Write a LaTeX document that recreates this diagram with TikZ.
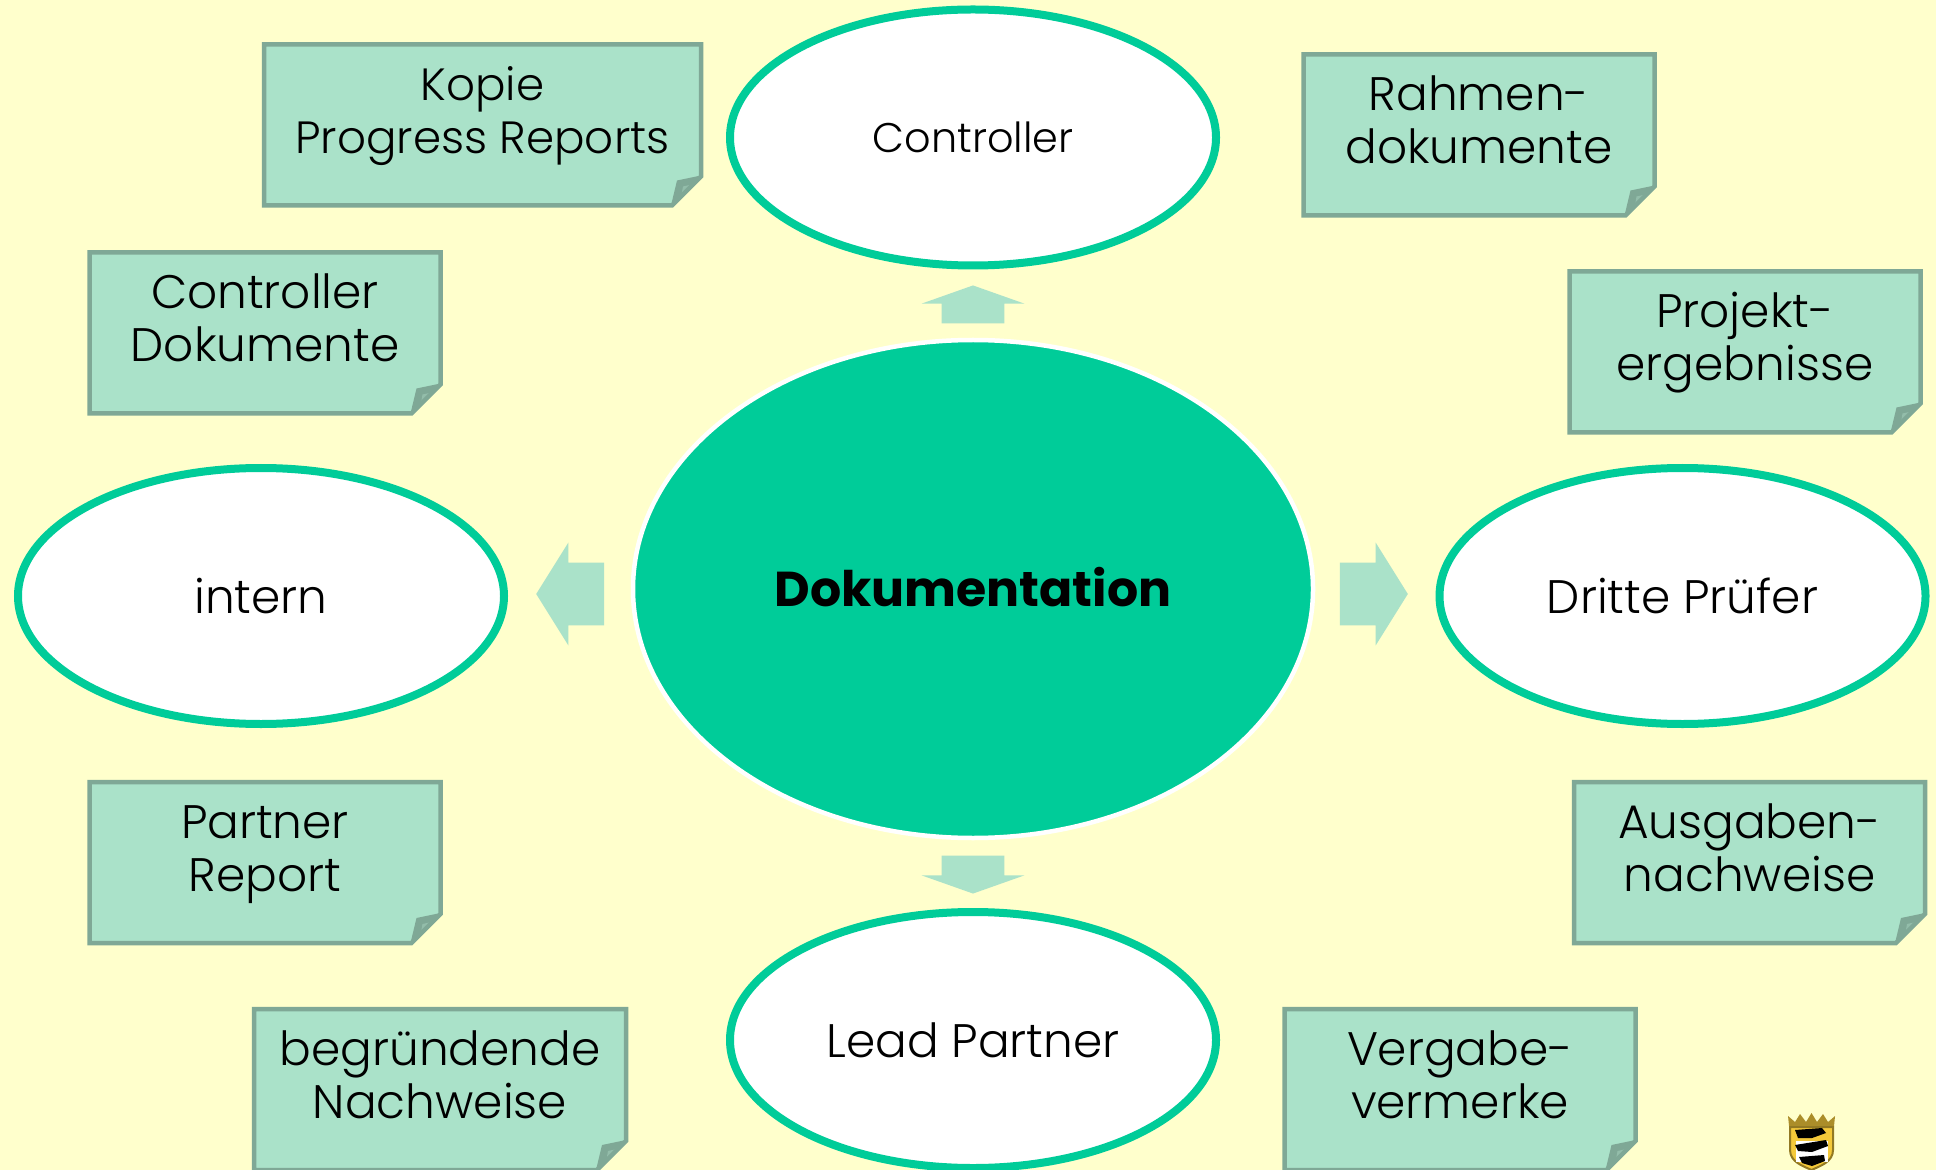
\documentclass[tikz,border=0pt]{standalone}
\usepackage{xcolor}
\usepackage{fontspec}
\setmainfont{Poppins}[UprightFont=*-Light,BoldFont=*-Bold]
\usetikzlibrary{shapes.geometric,shapes.misc,shapes.arrows}
\definecolor{paper}{HTML}{FFFFCC}
\definecolor{mint}{HTML}{00CC99}
\definecolor{notefill}{HTML}{AAE2C9}
\definecolor{noteline}{HTML}{7FA896}
\definecolor{foldlight}{HTML}{93BDAA}
\definecolor{crest}{HTML}{F4C93A}
\tikzset{
  note box/.style = {chamfered rectangle,chamfered rectangle corners=south east,
    chamfered rectangle xsep=7.5pt,chamfered rectangle ysep=7pt,
    draw=noteline,fill=notefill,line width=2.25pt,
    minimum width=175.5pt,minimum height=80.5pt,inner sep=0pt,align=center,
    font=\fontsize{23.5}{26.5}\selectfont,text height=35pt,text depth=6pt,
    path picture={
      \coordinate (fold) at (path picture bounding box.south east);
      \fill[noteline] ([shift={(-30,0)}]fold) -- ([shift={(-24,-25)}]fold) -- ([shift={(0,-30)}]fold) -- cycle;
      \fill[foldlight] ([shift={(-20,-8)}]fold) -- ([shift={(-18,-19)}]fold) -- ([shift={(-9,-21)}]fold) -- cycle;
    }},
  block up/.style = {single arrow,fill=notefill,inner xsep=0pt,inner ysep=15.5pt,rotate=90,
    minimum height=19pt,single arrow head extend=10pt,
    single arrow tip angle=141,single arrow head indent=0pt},
  block side/.style = {single arrow,fill=notefill,inner xsep=0pt,inner ysep=15.5pt,
    minimum height=34pt,single arrow head extend=10pt,
    single arrow tip angle=116,single arrow head indent=0pt}
}

\begin{document}
\begin{tikzpicture}[x=0.5pt,y=-0.5pt,
    main node/.style={ellipse,draw=mint,fill=white,line width=4pt,inner sep=0pt,
      minimum width=243pt,minimum height=128pt,font=\fontsize{23.5}{26}\selectfont}]
    \fill[paper] (0,0) rectangle (1936,1170);
    \useasboundingbox (0,0) rectangle (1936,1170);

    \node[ellipse,fill=mint,draw=white,line width=2.25pt,inner sep=0pt,minimum width=340pt,minimum height=249pt,
        text depth=2.5pt,font=\fontsize{24.5}{30}\selectfont\bfseries] (doku) at (973,589) {Dokumentation};

    \node[main node,font=\fontsize{20.7}{24}\selectfont] (controller) at (973,137.5) {Controller};
    \node[main node] (intern) at (261,596) {intern};
    \node[main node] (dritte) at (1682.5,596) {Dritte Prüfer};
    \node[main node] (lead) at (973,1040) {Lead Partner};

    \node[block up] (toController) at (973,310) {};
    \node[block up,rotate=180] (toLead) at (973,869) {};
    \node[block side,rotate=180] (toIntern) at (580,594) {};
    \node[block side] (toDritte) at (1364,594) {};

    \node[note box,minimum width=218.5pt,font=\fontsize{22.6}{26.5}\selectfont] (kopie) at (482.5,125) {Kopie\\Progress Reports};
    \node[note box] (ctrldok) at (265,333) {Controller\\Dokumente};
    \node[note box] (rahmen) at (1479,135) {Rahmen-\\dokumente};
    \node[note box] (projekt) at (1745,352) {Projekt-\\ergebnisse};
    \node[note box] (partner) at (265,862.5) {Partner\\Report};
    \node[note box] (ausgaben) at (1749.5,862.5) {Ausgaben-\\nachweise};
    \node[note box,minimum width=186pt] (begruendend) at (440,1089.5) {begründende\\Nachweise};
    \node[note box] (vergabe) at (1460,1089.5) {Vergabe-\\vermerke};

    % crest
    \fill[crest!70!black] (1788,1116) -- (1795,1122) -- (1800,1114) -- (1806,1122) -- (1811.5,1113) -- (1817,1122) -- (1823,1114) -- (1828,1122) -- (1835,1116) -- (1834,1126) -- (1789,1126) -- cycle;
    \draw[fill=crest,draw=crest!60!black,line width=1pt] (1790,1127) -- (1833,1127) -- (1833,1150) .. controls (1833,1162) and (1820,1166) .. (1811.5,1170) .. controls (1803,1166) and (1790,1162) .. (1790,1150) -- cycle;
    \fill[white] (1796,1141) rectangle (1828,1162);
    \fill[black] (1795,1130) -- (1822,1128) -- (1826,1133) -- (1812,1138) -- (1798,1138) -- cycle;
    \fill[black] (1795,1145) -- (1826,1140) -- (1828,1146) -- (1812,1152) -- (1798,1151) -- cycle;
    \fill[black] (1799,1157) -- (1824,1155) -- (1825,1161) -- (1812,1166) -- (1802,1163) -- cycle;
\end{tikzpicture}
\end{document}
